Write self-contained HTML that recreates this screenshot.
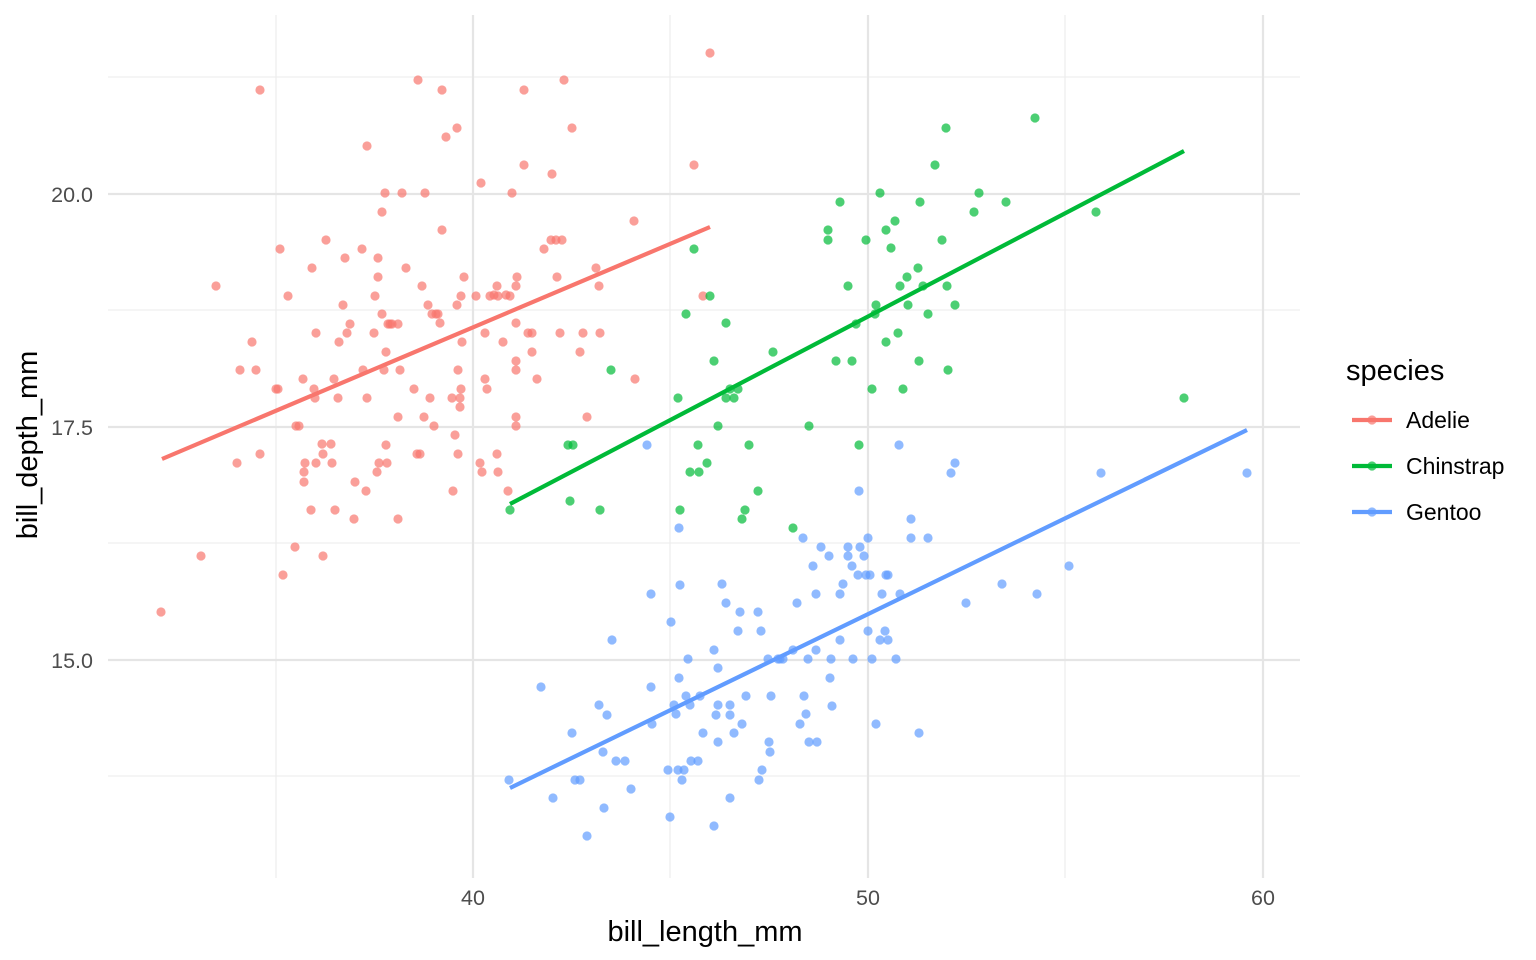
<!DOCTYPE html>
<html><head><meta charset="utf-8"><style>
html,body{margin:0;padding:0;background:#fff;}
svg{display:block;font-family:"Liberation Sans",Arial,sans-serif;}
</style></head><body>
<svg id="s" width="1536" height="960" viewBox="0 0 1536 960">
<rect width="1536" height="960" fill="#fff"/>
<g stroke="#ebebeb" stroke-width="1.1">
<line x1="108" x2="1300" y1="77" y2="77"/><line x1="108" x2="1300" y1="310" y2="310"/>
<line x1="108" x2="1300" y1="543" y2="543"/><line x1="108" x2="1300" y1="776" y2="776"/>
<line y1="15" y2="878" x1="276" x2="276"/><line y1="15" y2="878" x1="670" x2="670"/><line y1="15" y2="878" x1="1065" x2="1065"/>
</g>
<g stroke="#e5e5e5" stroke-width="2.2">
<line x1="108" x2="1300" y1="194" y2="194"/><line x1="108" x2="1300" y1="427" y2="427"/><line x1="108" x2="1300" y1="660" y2="660"/>
<line y1="15" y2="878" x1="473" x2="473"/><line y1="15" y2="878" x1="868" x2="868"/><line y1="15" y2="878" x1="1263" x2="1263"/>
</g>
<g id="pts"></g>
<g stroke-width="4.2">
<line x1="162" y1="459" x2="710" y2="227" stroke="#F8766D"/>
<line x1="510" y1="504" x2="1184" y2="151" stroke="#00BA38"/>
<line x1="510" y1="788" x2="1247" y2="430" stroke="#619CFF"/>
</g>
<g font-size="21.5" fill="#4d4d4d" text-anchor="end">
<text x="93" y="202">20.0</text><text x="93" y="435">17.5</text><text x="93" y="668">15.0</text>
</g>
<g font-size="21.5" fill="#4d4d4d" text-anchor="middle">
<text x="473" y="905">40</text><text x="868" y="905">50</text><text x="1263" y="905">60</text>
</g>
<text x="705" y="941" font-size="29" text-anchor="middle">bill_length_mm</text>
<text transform="translate(37,445) rotate(-90)" font-size="29" text-anchor="middle">bill_depth_mm</text>
<text x="1346" y="380" font-size="29">species</text>
<g stroke-width="4.2">
<line x1="1352" x2="1392" y1="420" y2="420" stroke="#F8766D"/>
<line x1="1352" x2="1392" y1="466" y2="466" stroke="#00BA38"/>
<line x1="1352" x2="1392" y1="512" y2="512" stroke="#619CFF"/>
</g>
<circle cx="1372" cy="420" r="4.6" fill="#F8766D" opacity=".7"/>
<circle cx="1372" cy="466" r="4.6" fill="#00BA38" opacity=".7"/>
<circle cx="1372" cy="512" r="4.6" fill="#619CFF" opacity=".7"/>
<g font-size="23">
<text x="1406" y="428">Adelie</text><text x="1406" y="474">Chinstrap</text><text x="1406" y="520">Gentoo</text>
</g>
</svg>
<script>
var A=[[161,612],[201,556],[216,286],[237,463],[240,370],[252,342],[256,370],[260,90],[260,454],[276,389],[278,389],[280,249],[283,575],[288,296],[295,547],[296,426],[299,426],[303,379],[304,472],[304,482],[305,463],[311,510],[312,268],[314,389],[315,398],[316,333],[316,463],[322,444],[323,556],[323,454],[326,240],[331,444],[332,463],[334,379],[335,510],[338,398],[339,342],[343,305],[345,258],[347,333],[350,324],[354,519],[355,482],[362,249],[363,370],[366,491],[367,398],[367,146],[374,333],[375,296],[377,472],[378,258],[378,277],[379,463],[382,212],[382,314],[384,370],[385,193],[386,445],[386,352],[387,463],[388,324],[390,324],[392,324],[398,324],[398,417],[398,519],[400,370],[402,193],[406,268],[414,389],[417,454],[418,80],[420,454],[422,286],[424,417],[425,193],[428,305],[430,398],[432,314],[434,426],[436,314],[438,314],[440,323],[442,90],[442,230],[446,137],[452,398],[453,491],[455,435],[457,128],[457,305],[458,454],[458,370],[460,407],[460,398],[461,389],[461,296],[462,342],[464,277],[476,296],[480,463],[481,183],[482,472],[485,333],[485,379],[487,389],[490,296],[494,295],[497,286],[497,454],[498,296],[498,472],[503,342],[506,295],[508,491],[510,296],[512,193],[516,417],[516,426],[516,370],[516,361],[516,323],[516,286],[517,277],[524,90],[524,165],[528,333],[532,352],[532,333],[537,379],[544,249],[551,240],[552,174],[556,240],[557,277],[560,333],[562,240],[564,80],[572,128],[580,352],[583,333],[587,417],[596,268],[599,286],[600,333],[634,221],[635,379],[710,53],[694,165],[703,296]];
var C=[[510,510],[568,445],[570,501],[573,445],[600,510],[611,370],[678,398],[680,510],[686,314],[690,472],[694,249],[698,445],[699,472],[707,463],[710,296],[714,361],[718,426],[726,323],[726,398],[730,389],[734,398],[738,389],[742,519],[745,510],[749,445],[758,491],[773,352],[793,528],[809,426],[828,240],[828,230],[836,361],[840,202],[848,286],[852,361],[856,324],[859,445],[866,240],[872,389],[875,314],[876,305],[880,193],[886,230],[886,342],[891,248],[895,221],[898,333],[900,286],[903,389],[907,277],[908,305],[918,268],[919,361],[920,202],[923,286],[928,314],[935,165],[942,240],[946,128],[947,286],[948,370],[955,305],[974,212],[979,193],[1006,202],[1035,118],[1096,212],[1184,398]];
var G=[[509,780],[541,687],[553,798],[572,733],[575,780],[580,780],[587,836],[599,705],[603,752],[604,808],[607,715],[612,640],[616,761],[625,761],[631,789],[647,445],[651,594],[651,687],[652,724],[668,770],[670,817],[671,622],[674,705],[676,714],[678,770],[679,528],[679,678],[680,585],[682,780],[684,770],[686,696],[688,659],[690,705],[691,761],[698,761],[700,696],[703,733],[714,826],[714,650],[716,715],[718,705],[718,742],[718,668],[722,584],[726,603],[730,705],[730,715],[730,798],[734,733],[738,631],[740,612],[742,724],[746,696],[758,612],[759,780],[761,631],[762,770],[768,659],[769,742],[770,752],[771,696],[778,659],[780,659],[783,659],[793,650],[797,603],[800,724],[803,538],[804,696],[806,714],[808,659],[809,742],[813,566],[816,650],[816,594],[817,742],[821,547],[829,556],[830,678],[831,659],[832,706],[840,640],[840,594],[843,584],[848,547],[848,556],[852,566],[853,659],[858,575],[859,491],[860,547],[864,556],[866,575],[868,631],[868,538],[870,575],[872,659],[876,724],[880,640],[882,594],[885,631],[886,575],[888,575],[888,640],[896,659],[899,445],[900,594],[911,519],[911,538],[919,733],[928,538],[951,473],[955,463],[966,603],[1002,584],[1037,594],[1069,566],[1101,473],[1247,473]];
var g=document.getElementById('pts'),h='';
[[A,'#F8766D'],[C,'#00BA38'],[G,'#619CFF']].forEach(function(s){s[0].forEach(function(p){h+='<circle cx="'+p[0]+'" cy="'+p[1]+'" r="4.6" fill="'+s[1]+'" fill-opacity="0.7"/>';});});
g.innerHTML=h;
</script>
</body></html>
